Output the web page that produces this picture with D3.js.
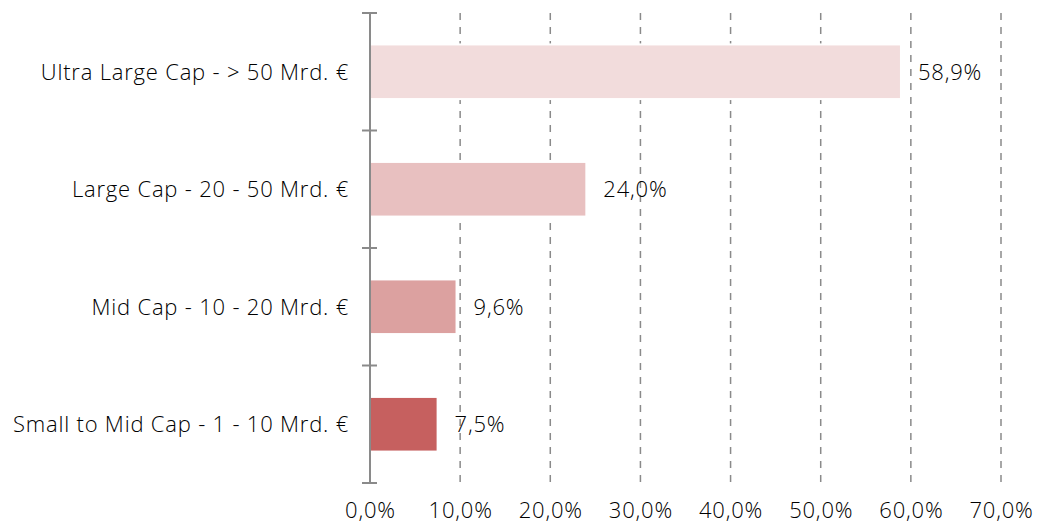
<!DOCTYPE html>
<html>
<head>
<meta charset="utf-8">
<script src="https://cdn.jsdelivr.net/npm/d3@7"></script>
<style>
  body { margin: 0; background: #fff; }
  svg text { font-family: "Open Sans", "Noto Sans", sans-serif; font-weight: 300; letter-spacing: 0.8px; fill: #000; }
</style>
</head>
<body>
<svg id="chart" width="1043" height="526"></svg>
<script>
var categories = [
  "Ultra Large Cap - > 50 Mrd. €",
  "Large Cap - 20 - 50 Mrd. €",
  "Mid Cap - 10 - 20 Mrd. €",
  "Small to Mid Cap - 1 - 10 Mrd. €"
];
var values = [0.589, 0.240, 0.096, 0.075];
var barColors = ["#f2dcdc", "#e8c0c0", "#dca1a0", "#c6605f"];
var tickValues = [0, 0.1, 0.2, 0.3, 0.4, 0.5, 0.6, 0.7];

var locale = d3.formatLocale({decimal: ",", thousands: ".", grouping: [3], currency: ["", " €"]});
var pct = locale.format(".1%");

var svg = d3.select("#chart");
var plotLeft = 370, plotRight = 1001, plotTop = 13, plotBottom = 483;

var x = d3.scaleLinear().domain([0, 0.7]).range([plotLeft, plotRight]);
var y = d3.scaleBand()
    .domain(categories)
    .range([plotTop, plotBottom])
    .paddingInner(0.535)
    .paddingOuter(0.2675);

// dashed grid
svg.append("g")
    .selectAll("line")
    .data(tickValues.slice(1))
    .enter().append("line")
    .attr("x1", function(d) { return x(d); })
    .attr("x2", function(d) { return x(d); })
    .attr("y1", plotTop)
    .attr("y2", plotBottom)
    .attr("stroke", "#8a8a8a")
    .attr("stroke-width", 1.5)
    .attr("stroke-dasharray", "7,7");

// bars
svg.append("g")
    .selectAll("rect")
    .data(values)
    .enter().append("rect")
    .attr("x", x(0))
    .attr("y", function(d, i) { return y(categories[i]); })
    .attr("width", function(d) { return x(d) - x(0); })
    .attr("height", y.bandwidth())
    .attr("fill", function(d, i) { return barColors[i]; })
    .attr("stroke", "#fff")
    .attr("stroke-width", 2);

// value labels
svg.append("g")
    .selectAll("text")
    .data(values)
    .enter().append("text")
    .attr("x", function(d) { return x(d) + 17; })
    .attr("y", function(d, i) { return y(categories[i]) + y.bandwidth() / 2; })
    .attr("dy", "0.36em")
    .style("font-size", "22px")
    .text(function(d) { return pct(d); });

// vertical axis with band boundary ticks
var half = y.step() * y.paddingInner() / 2;
var bounds = categories.map(function(c) { return y(c) - half; });
bounds.push(plotBottom);

svg.append("line")
    .attr("x1", plotLeft).attr("x2", plotLeft)
    .attr("y1", plotTop).attr("y2", plotBottom)
    .attr("stroke", "#8a8a8a")
    .attr("stroke-width", 2);

svg.append("g")
    .selectAll("line")
    .data(bounds)
    .enter().append("line")
    .attr("x1", plotLeft - 8).attr("x2", plotLeft + 7)
    .attr("y1", function(d) { return d; })
    .attr("y2", function(d) { return d; })
    .attr("stroke", "#8a8a8a")
    .attr("stroke-width", 2);

// category labels
svg.append("g")
    .selectAll("text")
    .data(categories)
    .enter().append("text")
    .attr("x", 349)
    .attr("y", function(d) { return y(d) + y.bandwidth() / 2; })
    .attr("dy", "0.36em")
    .attr("text-anchor", "end")
    .style("font-size", "22px")
    .text(function(d) { return d; });

// x tick labels
var xAxis = d3.axisBottom(x).tickValues(tickValues).tickFormat(pct).tickSize(0);
var gx = svg.append("g")
    .attr("transform", "translate(0," + plotBottom + ")")
    .call(xAxis);
gx.select(".domain").remove();
gx.selectAll("text")
    .attr("y", 35)
    .attr("dy", 0)
    .style("font-size", "22px")
    .style("font-family", "'Open Sans', 'Noto Sans', sans-serif")
    .attr("fill", "#000");
</script>
</body>
</html>
